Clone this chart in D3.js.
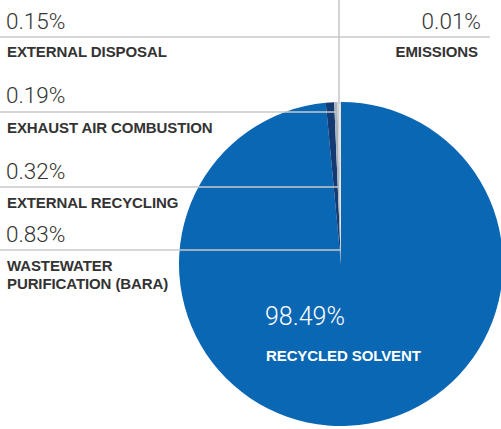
<!DOCTYPE html>
<html>
<head>
<meta charset="utf-8">
<script src="https://cdn.jsdelivr.net/npm/d3@7"></script>
<style>
  html, body { margin: 0; padding: 0; background: #fff; }
  svg { display: block; }
  .num { font-family: Roboto, "Liberation Sans", sans-serif; font-weight: 300; font-size: 22.5px; fill: #333; }
  .lbl { font-family: "Liberation Sans", Arial, sans-serif; font-weight: 700; font-size: 15px; fill: #333; letter-spacing: -0.1px; }
  .in-num { fill: #fff; }
  .in-lbl { fill: #fff; }
</style>
</head>
<body>
<script>
// Solvent balance: share of solvent by destination
const categories = ["RECYCLED SOLVENT", "WASTEWATER PURIFICATION (BARA)", "EXTERNAL RECYCLING", "EXHAUST AIR COMBUSTION", "EXTERNAL DISPOSAL", "EMISSIONS"];
const values = [98.49, 0.83, 0.32, 0.19, 0.15, 0.01];
const colors = ["#0a67b4", "#133a72", "#aab2bc", "#cfd0d2", "#e6e6e6", "#e3a070"];
// Label lines per category (multi-line names wrap here)
const labelLines = [["RECYCLED SOLVENT"], ["WASTEWATER", "PURIFICATION (BARA)"], ["EXTERNAL RECYCLING"], ["EXHAUST AIR COMBUSTION"], ["EXTERNAL DISPOSAL"], ["EMISSIONS"]];

const W = 501, H = 429;
const cx = 341, cy = 264, R = 162;
const fmt = v => d3.format(".2f")(v) + "%";

const svg = d3.select("body").append("svg").attr("width", W).attr("height", H);

const pie = d3.pie().sort(null).value(d => d.v);
const data = categories.map((c, i) => ({ c, v: values[i], i }));
const arcs = pie(data);
const arc = d3.arc().innerRadius(0).outerRadius(R);

const g = svg.append("g").attr("transform", `translate(${cx},${cy})`);
g.selectAll("path").data(arcs).join("path")
  .attr("d", arc)
  .attr("fill", d => colors[d.data.i]);

const lineColor = "#c9c9c9";
const ann = svg.append("g");

// x where a slice's mid-angle ray crosses height y
function rayX(a, y) {
  const mid = (a.startAngle + a.endAngle) / 2;
  return cx + (cy - y) * Math.tan(mid);
}

// Left-hand callouts: [category index, value baseline, rule y, label baseline]
const left = [
  [4, 29, 37, 57],
  [3, 103, 112, 133],
  [2, 179, 187, 208],
  [1, 242, 250, 271]
];
left.forEach(([i, yNum, yRule, yLbl]) => {
  const a = arcs[i];
  const xEnd = i === 4 ? 339 : rayX(a, yRule);
  ann.append("line").attr("x1", 0).attr("x2", xEnd)
    .attr("y1", yRule).attr("y2", yRule)
    .attr("stroke", lineColor).attr("stroke-width", 1.6);
  ann.append("text").attr("class", "num").attr("x", 6).attr("y", yNum).text(fmt(values[i]));
  labelLines[i].forEach((t, k) => {
    ann.append("text").attr("class", "lbl").attr("x", 7).attr("y", yLbl + k * 17.5).text(t);
  });
});

// Vertical rule rising from the top of the pie for the two thinnest slices
ann.append("line").attr("x1", 339).attr("x2", 339).attr("y1", 0).attr("y2", cy - R + 2)
  .attr("stroke", lineColor).attr("stroke-width", 1.6);
// Right-hand callout (emissions)
ann.append("line").attr("x1", 339).attr("x2", 490).attr("y1", 37).attr("y2", 37)
  .attr("stroke", lineColor).attr("stroke-width", 1.6);
ann.append("text").attr("class", "num").attr("x", 481).attr("y", 29)
  .attr("text-anchor", "end").text(fmt(values[5]));
ann.append("text").attr("class", "lbl").attr("x", 478).attr("y", 57)
  .attr("text-anchor", "end").text(labelLines[5][0]);

// Inside label for the dominant slice
ann.append("text").attr("class", "num in-num").attr("x", 265).attr("y", 325)
  .style("font-size", "25px").text(fmt(values[0]));
ann.append("text").attr("class", "lbl in-lbl").attr("x", 266).attr("y", 361)
  .text(labelLines[0][0]);
</script>
</body>
</html>
